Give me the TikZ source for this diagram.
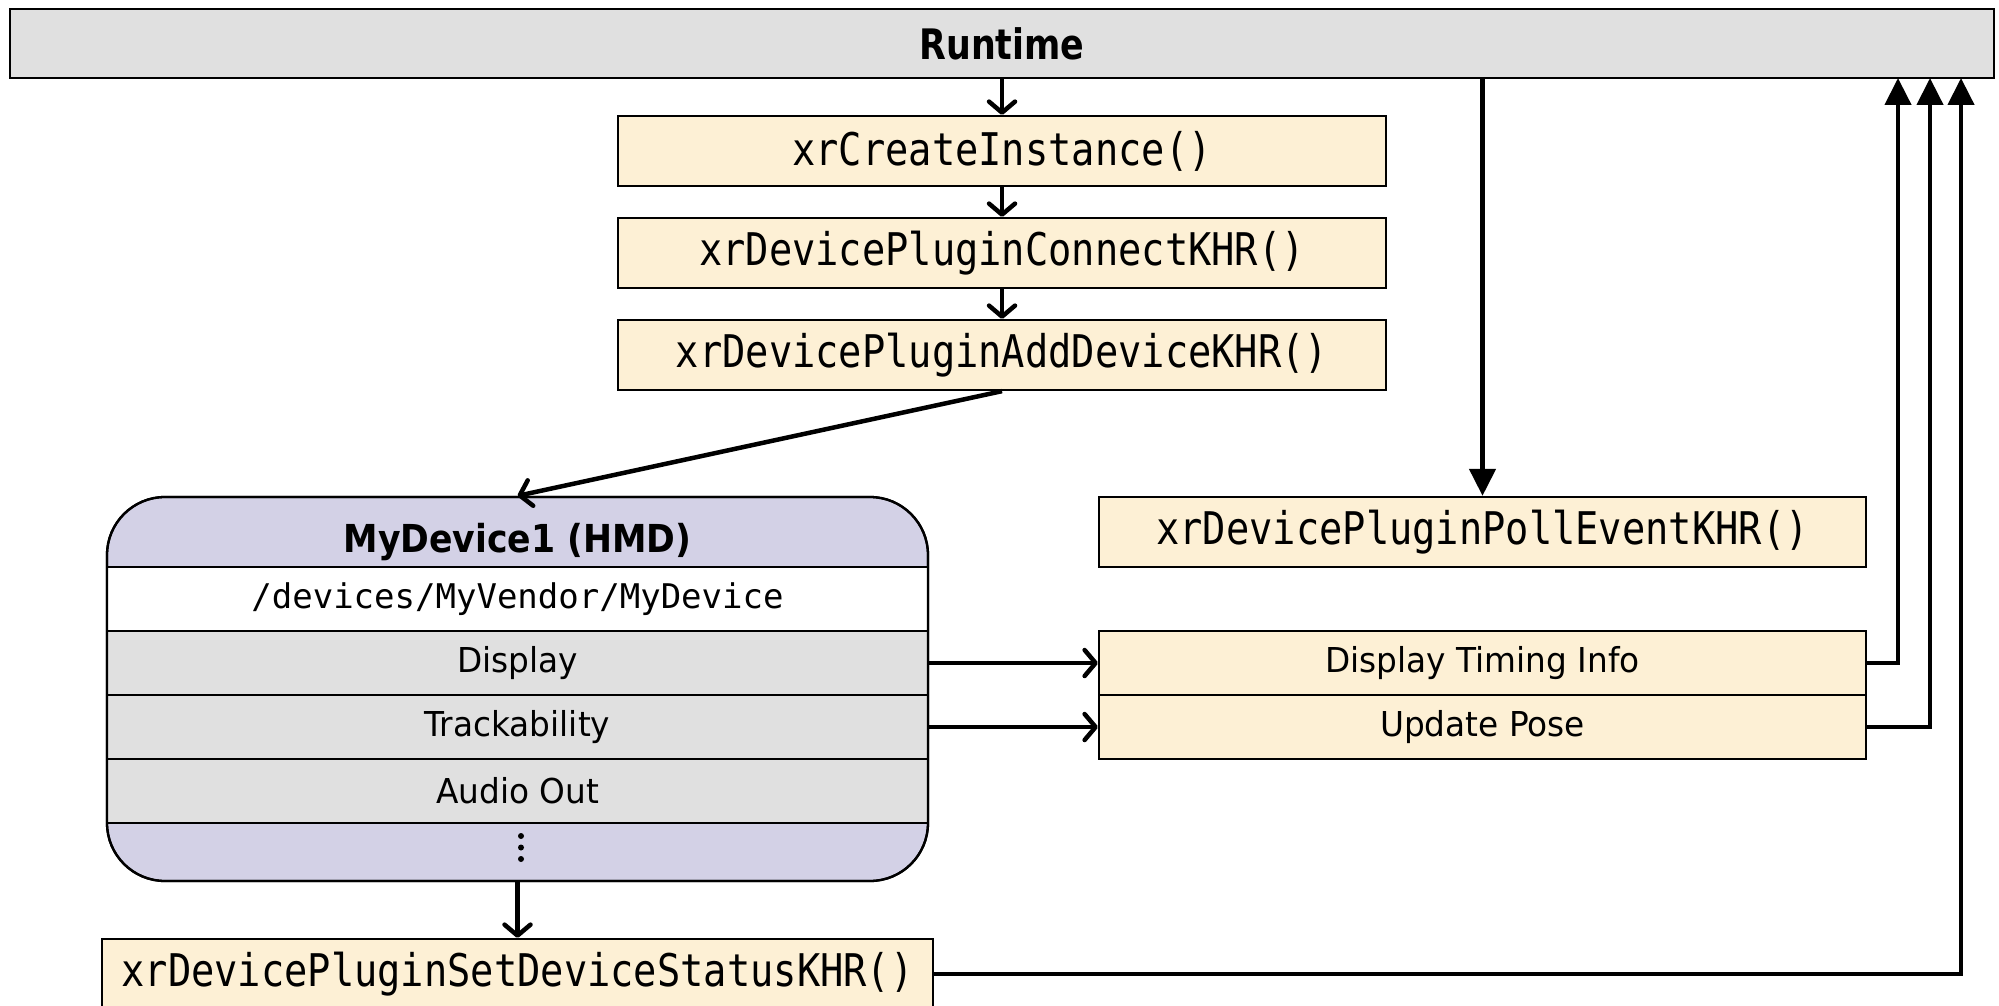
\documentclass[tikz,border=0pt]{standalone}
\usepackage{fontspec}
\usetikzlibrary{arrows.meta,calc}
\newfontfamily\rtfont[FakeStretch=0.83]{DejaVu Sans}
\newfontfamily\mdfont[FakeStretch=0.90]{DejaVu Sans}
\newfontfamily\rowfont[FakeStretch=0.955]{DejaVu Sans}
\newfontfamily\monoA[FakeStretch=0.86]{DejaVu Sans Mono}
\newfontfamily\monoB{DejaVu Sans Mono}
\definecolor{rtgray}{HTML}{E0E0E0}
\definecolor{fnyellow}{HTML}{FDF0D5}
\definecolor{devpurple}{HTML}{D3D1E6}
\tikzset{
  boxline/.style={draw=black, line width=2.3pt},
  fnbox/.style={boxline, fill=fnyellow, minimum width=768pt, minimum height=70pt, inner sep=0pt, font=\monoA\fontsize{45}{54}\selectfont},
  rowbox/.style={boxline, fill=rtgray, minimum width=821pt, minimum height=64pt, inner sep=0pt, font=\rowfont\fontsize{34.3}{40}\selectfont},
  infobox/.style={boxline, fill=fnyellow, minimum width=767pt, minimum height=64pt, inner sep=0pt, font=\rowfont\fontsize{34.3}{40}\selectfont},
  vtip/.style={line width=4.5pt, -{Straight Barb[length=11pt,width=26pt,round]}},
  ftip/.style={line width=4.5pt, -{Triangle[length=27pt,width=26pt]}},
}
\begin{document}
\begin{tikzpicture}[x=1pt,y=-1pt]
\useasboundingbox (0,0) rectangle (1999,1006);
% Runtime
\node[boxline, fill=rtgray, minimum width=1984pt, minimum height=69pt, inner sep=0pt,
      font=\rtfont\bfseries\fontsize{42}{50}\selectfont] (rt) at (1002,43.5) {Runtime};
% call chain
\node[fnbox] (ci) at (1002,151) {xrCreateInstance()};
\node[fnbox] (cc) at (1002,253) {xrDevicePluginConnectKHR()};
\node[fnbox] (ad) at (1002,355) {xrDevicePluginAddDeviceKHR()};
% device
\node[boxline, fill=devpurple, rounded corners=58pt, minimum width=821pt, minimum height=384pt, inner sep=0pt] (md) at (517.5,689) {};
\node[inner sep=0pt, font=\mdfont\bfseries\fontsize{38.5}{46}\selectfont] (mdtitle) at (517.5,542) {MyDevice1 (HMD)};
\node[boxline, fill=white, minimum width=821pt, minimum height=64pt, inner sep=0pt, font=\monoB\fontsize{34}{40}\selectfont] (mdpath) at (517.5,599) {/devices/MyVendor/MyDevice};
\node[rowbox] (mddisp) at (517.5,663) {Display};
\node[rowbox] (mdtrack) at (517.5,727) {Trackability};
\node[rowbox] (mdaudio) at (517.5,791) {Audio Out};
\draw[boxline, rounded corners=58pt] (107,497) rectangle (928,881);
\node[inner sep=0pt, minimum size=1pt] (mddots) at (521,847) {};
\fill (521,836) circle (3pt) (521,847.5) circle (3pt) (521,859) circle (3pt);
% set device status
\node[fnbox, minimum width=831pt] (sd) at (517.5,974) {xrDevicePluginSetDeviceStatusKHR()};
% poll event and info
\node[fnbox, minimum width=767pt] (pe) at (1482.5,532) {xrDevicePluginPollEventKHR()};
\node[infobox] (dti) at (1482.5,663) {Display Timing Info};
\node[infobox] (up) at (1482.5,727) {Update Pose};
% return points on Runtime
\coordinate (r1) at (1898,78);
\coordinate (r2) at (1930,78);
\coordinate (r3) at (1961,78);
% connectors
\draw[vtip] (rt.south) -- (ci.north);
\draw[vtip] (ci.south) -- (cc.north);
\draw[vtip] (cc.south) -- (ad.north);
\draw[vtip] (ad.south) -- (md.north);
\draw[vtip] (md.south) -- (sd.north);
\draw[ftip] (rt.south -| pe.north) -- (pe.north);
\draw[vtip] (mddisp.east) -- (dti.west);
\draw[vtip] (mdtrack.east) -- (up.west);
\draw[ftip] (dti.east) -| (r1);
\draw[ftip] (up.east) -| (r2);
\draw[ftip] (sd.east) -| (r3);
\end{tikzpicture}
\end{document}
